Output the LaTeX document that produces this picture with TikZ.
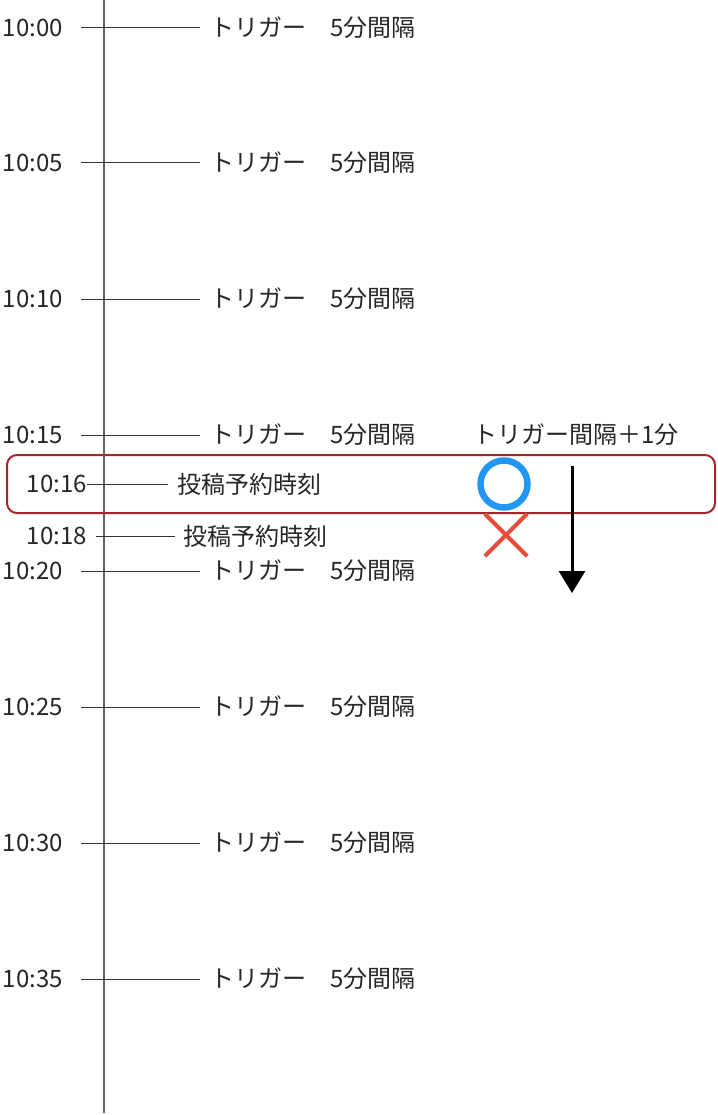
\documentclass[tikz,border=0pt]{standalone}
\usepackage{fontspec}
\setmainfont{Noto Sans CJK JP}
\usetikzlibrary{arrows.meta}

\definecolor{boxred}{HTML}{A0262A}
\definecolor{okblue}{HTML}{2196F3}
\definecolor{ngred}{HTML}{E74C3C}

\tikzset{
  lbl/.style={anchor=west,inner sep=0pt,font=\fontsize{24}{28}\selectfont,text=black!85},
  tick/.style={draw=black!80,line width=1pt}
}

\begin{document}
\begin{tikzpicture}[x=1pt,y=-1pt]
\useasboundingbox (0,0) rectangle (717,1115);

\coordinate (axtop) at (104,0);
\coordinate (axbot) at (104,1113);
\draw [black!60,line width=1.3pt] (axtop) -- (axbot);

\node[lbl] (t00) at (2.5,28) {10:00};
\node[lbl] (g00) at (210,28) {トリガー　5分間隔};
\node[lbl] (t05) at (2.5,163) {10:05};
\node[lbl] (g05) at (210,163) {トリガー　5分間隔};
\node[lbl] (t10) at (2.5,299) {10:10};
\node[lbl] (g10) at (210,299) {トリガー　5分間隔};
\node[lbl] (t15) at (2.5,435) {10:15};
\node[lbl] (g15) at (210,435) {トリガー　5分間隔};
\node[lbl] (t20) at (2.5,571) {10:20};
\node[lbl] (g20) at (210,571) {トリガー　5分間隔};
\node[lbl] (t25) at (2.5,707) {10:25};
\node[lbl] (g25) at (210,707) {トリガー　5分間隔};
\node[lbl] (t30) at (2.5,843) {10:30};
\node[lbl] (g30) at (210,843) {トリガー　5分間隔};
\node[lbl] (t35) at (2.5,979) {10:35};
\node[lbl] (g35) at (210,979) {トリガー　5分間隔};

\draw [tick] ([xshift=18pt]t00.east) -- ([xshift=-10pt]g00.west);
\draw [tick] ([xshift=18pt]t05.east) -- ([xshift=-10pt]g05.west);
\draw [tick] ([xshift=18pt]t10.east) -- ([xshift=-10pt]g10.west);
\draw [tick] ([xshift=18pt]t15.east) -- ([xshift=-10pt]g15.west);
\draw [tick] ([xshift=18pt]t20.east) -- ([xshift=-10pt]g20.west);
\draw [tick] ([xshift=18pt]t25.east) -- ([xshift=-10pt]g25.west);
\draw [tick] ([xshift=18pt]t30.east) -- ([xshift=-10pt]g30.west);
\draw [tick] ([xshift=18pt]t35.east) -- ([xshift=-10pt]g35.west);

% posting times
\node[lbl] (t16) at (26.5,484) {10:16};
\node[lbl] (p16) at (177,484) {投稿予約時刻};
\node[lbl] (t18) at (26.5,536) {10:18};
\node[lbl] (p18) at (183,536) {投稿予約時刻};
\draw [tick] (t16.east) -- ([xshift=-9pt]p16.west);
\draw [tick] ([xshift=9pt]t18.east) -- ([xshift=-8pt]p18.west);

\node[lbl] (note) at (473,435) {トリガー間隔＋1分};

\draw [boxred,line width=2pt,rounded corners=10pt] (7,455) rectangle (715,513);

\node [draw=okblue,line width=6.5pt,circle,minimum size=47pt,inner sep=0pt] (ok) at (504,484) {};
\node [inner sep=0pt,minimum size=42pt] (ng) at (506,535) {};
\draw [ngred,line width=4pt] (ng.north west) -- (ng.south east);
\draw [ngred,line width=4pt] (ng.north east) -- (ng.south west);

\coordinate (arrtop) at (572,466);
\coordinate (arrbot) at (572,593);
\draw [line width=3pt,-{Triangle[width=26pt,length=22pt]}] (arrtop) -- (arrbot);
\end{tikzpicture}
\end{document}
